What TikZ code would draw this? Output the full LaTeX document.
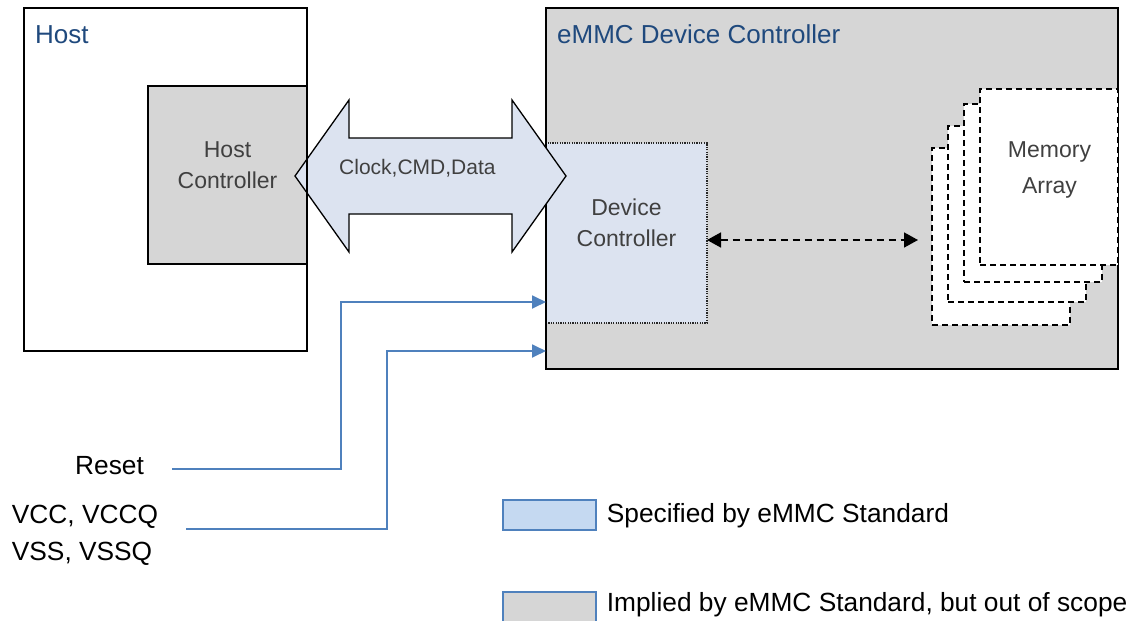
\documentclass[tikz,border=0pt]{standalone}
\usepackage{fontspec}
\setmainfont{Liberation Sans}
\usetikzlibrary{arrows.meta,calc}
\definecolor{lgray}{HTML}{D6D6D6}
\definecolor{lblue}{HTML}{DCE3F0}
\definecolor{legblue}{HTML}{C5D9F1}
\definecolor{lineblue}{HTML}{4F81BD}
\definecolor{titleblue}{HTML}{1F497D}
\definecolor{txtgray}{HTML}{404040}
\begin{document}
\begin{tikzpicture}[x=1pt,y=-1pt,
  box/.style={inner sep=0pt, outer sep=0pt, anchor=north west},
  solidborder/.style={draw=black, line width=1.6pt},
  title/.style={inner sep=0pt, anchor=base west, text=titleblue, font=\fontsize{26}{30}\selectfont},
  label/.style={inner sep=0pt, align=center, text=txtgray, font=\fontsize{23}{31}\selectfont},
  sig/.style={draw=lineblue, line width=1.8pt, -{Triangle[length=14pt,width=13pt]}},
  memrect/.style={box, draw=black, fill=white, line width=1.5pt, dash pattern=on 6pt off 4pt},
  legbox/.style={box, draw=lineblue, line width=1.5pt, minimum width=93pt, minimum height=30pt},
  legtext/.style={inner sep=0pt, anchor=base west, font=\fontsize{26.3}{30}\selectfont},
  sidetext/.style={inner sep=0pt, anchor=base west, font=\fontsize{26.3}{30}\selectfont}]
\useasboundingbox (0,0) rectangle (1133,621);

% Host
\node[box, fill=white, minimum width=283pt, minimum height=343pt] (host) at (24,8) {};
\node[box, fill=lgray, draw=black, line width=1.2pt, minimum width=159pt, minimum height=178pt] (hc) at (148,86) {};
\node[label, anchor=center] (hclabel) at (227.5,165.3) {Host\\Controller};
\node[title] (hosttitle) at (35,43.3) {Host};

% eMMC device
\node[box, fill=lgray, minimum width=572pt, minimum height=361pt] (emmc) at (546,8) {};
\node[box, fill=lblue, draw=black!85, line width=1.3pt, dash pattern=on 1.2pt off 1.2pt, minimum width=161pt, minimum height=180pt] (dev) at (546,143) {};
\draw[solidborder] (emmc.north west) rectangle (emmc.south east);
\node[label, anchor=center] (devlabel) at (626.5,223) {Device\\Controller};
\node[title] (emmctitle) at (557,43.3) {eMMC Device Controller};

% bus arrow
\draw[fill=lblue, draw=black, line width=1.3pt, line join=miter]
  (295,176) -- (349,100) -- (349,138) -- (512,138) -- (512,100) -- (566,176)
  -- (512,252) -- (512,214) -- (349,214) -- (349,252) -- cycle;
\node[inner sep=0pt, anchor=base west, text=txtgray, font=\fontsize{21}{25}\selectfont] (bus) at (339,174.3) {Clock,CMD,Data};
\draw[solidborder] (host.north west) rectangle (host.south east);

% memory stack
\node[memrect, minimum width=138pt, minimum height=177pt] (m4) at (932,148) {};
\node[memrect, minimum width=138pt, minimum height=176pt] (m3) at (948,126) {};
\node[memrect, minimum width=138pt, minimum height=178pt] (m2) at (964,104) {};
\node[memrect, minimum width=138pt, minimum height=176pt] (m1) at (980,89) {};
\node[label, anchor=center, font=\fontsize{23}{36}\selectfont] (memlabel) at (1049.5,170) {Memory\\Array};

% dashed link
\coordinate (memin) at (918,240);
\draw[line width=1.6pt, dash pattern=on 7pt off 5pt, {Triangle[length=14pt,width=15pt]}-{Triangle[length=14pt,width=15pt]}] (dev.east |- memin) -- (memin);

% side signals
\node[sidetext] (reset) at (75,474.3) {Reset};
\node[sidetext] (vcc) at (11.7,523.3) {VCC, VCCQ};
\node[sidetext] (vss) at (11.7,560) {VSS, VSSQ};
\coordinate (rs) at (172,469);
\coordinate (vc) at (186,529);
\draw[sig] (rs) -| (341,302) -- (dev.west |- 0,302);
\draw[sig] (vc) -| (387,351) -- (emmc.west |- 0,351);

% legend
\node[legbox, fill=legblue] (leg1) at (503,500) {};
\node[legtext] (leg1t) at (606.7,522.3) {Specified by eMMC Standard};
\node[legbox, fill=lgray] (leg2) at (503,592) {};
\node[legtext] (leg2t) at (606.7,611.7) {Implied by eMMC Standard, but out of scope};
\end{tikzpicture}
\end{document}
